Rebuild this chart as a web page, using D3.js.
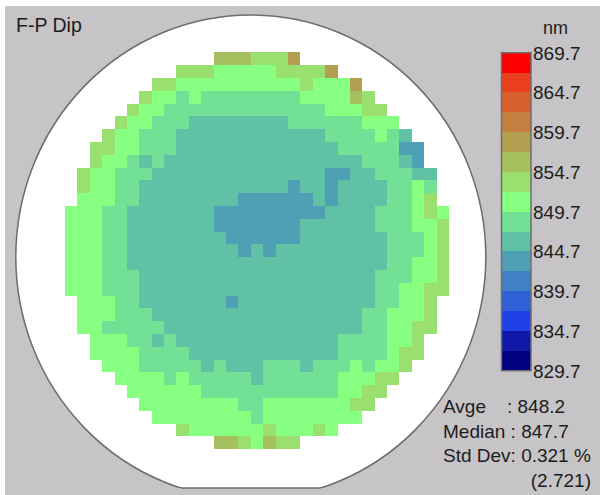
<!DOCTYPE html>
<html>
<head>
<meta charset="utf-8">
<script src="https://cdn.jsdelivr.net/npm/d3@7"></script>
<style>
    body { margin: 0; background: #fff; }
    text { font-family: "Liberation Sans", Arial, sans-serif; fill: #1c1c1c; }
</style>
</head>
<body>
<script>
// legend bands, low to high
var bandBreaks = [832.2, 834.7, 837.2, 839.7, 842.2, 844.7, 847.2, 849.7,
                  852.2, 854.7, 857.2, 859.7, 862.2, 864.7, 867.2];
var bandColors = ["#000080", "#1018a8", "#2040ea", "#3060d5", "#4080c5", "#4f9fb5", "#60c1a5", "#72e196",
                  "#87ff80", "#99e070", "#a6c060", "#b29f50", "#c47f40", "#d8602f", "#ea4020", "#ff0000"];
var legendTicks = [869.7, 864.7, 859.7, 854.7, 849.7, 844.7, 839.7, 834.7, 829.7];

var siteValues = { D: 843.4, T: 846.0, M: 848.4, G: 851.0, L: 853.4, O: 856.0, B: 858.4 };
var siteRows = [
    "............OOOLLLB............",
    ".........LLLGGGGGLLLLB.........",
    ".......LLGGGGGGGGGGLGGGB.......",
    "......LGGMGMMMMMMMMGGGGOL......",
    ".....LGGMMMMMMMMMMMMMGGGLL.....",
    "....LGGMMMTTTTTTTTMMMMMMGGG....",
    "...LGGMMMTTTTTTTTTTTTMMMMGMT...",
    "..LLGGMMMTTTTTTTTTTTTTMMMMMDD..",
    "..LGGMTMTTTTTTTTTTTTTTTTMMMTD..",
    ".LGGMMMTTTTTTTTTTTTTTDDTTMMMTT.",
    ".LGGMMTTTTTTTTTTTTDTTDTTTTMMGM.",
    ".GGGMMTTTTTTTTDDDDDDTDTTTTMMGL.",
    "GGGMMTTTTTTTDDDDDDDDDTTTTMMMGLG",
    "GGGMMTTTTTTTDDDDDDDTTTTTTMMMGGL",
    "GGGMMTTTTTTTTDDDDDDTTTTTTTMMMGL",
    "GGGMMTTTTTTTTTDTDTTTTTTTTTMMMGL",
    "GGGMMTTTTTTTTTTTTTTTTTTTTTMMGGL",
    "GGGMMMTTTTTTTTTTTTTTTTTTTMMMGGL",
    "GGGMMMTTTTTTTTTTTTTTTTTTTMMGGLL",
    ".GGGMMTTTTTTTDTTTTTTTTTTTMMGGL.",
    ".GGGMMMTTTTTTTTTTTTTTTTTMMGGGL.",
    ".GGMMMMMTTTTTTTTTTTTTTTTMMGGLL.",
    "..GGGMMTMTTTTTTTTTTTTTMMMMGGL..",
    "..GGGGMMMMTTTTTTTTTTTTMMMMGLL..",
    "...GGGMMMMMTMTTTMMMTMMMGMGGL...",
    "....GGGGMGMMMMMTMMMMMMGGGLL....",
    ".....GGGGGGMMMMMMMMMMMGGLL.....",
    "......GGGGGGGGMMGGGGGGGLL......",
    ".......GGGGGGGGMGGGGGGGG.......",
    ".........LGGGGGGLGGGLG.........",
    "............OOLGOLL............"
];

var statLines = ["Avge", "Median : 847.7", "Std Dev: 0.321 %"];

var sites = [];
siteRows.forEach(function (row, r) {
    row.split("").forEach(function (ch, c) {
        if (ch != ".") sites.push({ row: r, col: c, value: siteValues[ch] });
    });
});

var svg = d3.select("body")
    .append("svg")
    .attr("width", 600)
    .attr("height", 495)
    .style("display", "block");

// grey panel
svg.append("rect")
    .attr("x", 5)
    .attr("y", 6)
    .attr("width", 595)
    .attr("height", 489)
    .attr("fill", "#c6c4c6");

// wafer with its flat at the bottom
var cx = 250.8, cy = 257, rx = 235, ry = 242, flatY = 488;
var flatHalf = rx * Math.sqrt(1 - Math.pow((flatY - cy) / ry, 2));

svg.append("clipPath")
    .attr("id", "flat")
    .append("rect")
    .attr("x", 0)
    .attr("y", 0)
    .attr("width", 600)
    .attr("height", flatY);

svg.append("ellipse")
    .attr("cx", cx)
    .attr("cy", cy)
    .attr("rx", rx)
    .attr("ry", ry)
    .attr("clip-path", "url(#flat)")
    .attr("fill", "#fff")
    .attr("stroke", "#6c6c6c")
    .attr("stroke-width", 1.5);

svg.append("line")
    .attr("x1", cx - flatHalf)
    .attr("x2", cx + flatHalf)
    .attr("y1", flatY)
    .attr("y2", flatY)
    .attr("stroke", "#6c6c6c")
    .attr("stroke-width", 1.5);

// site map
var xScale = d3.scaleLinear()
    .domain([0, siteRows[0].length])
    .range([65, 449]);

var yScale = d3.scaleLinear()
    .domain([0, siteRows.length])
    .range([52.3, 449.1]);

var colorScale = d3.scaleThreshold()
    .domain(bandBreaks)
    .range(bandColors);

svg.append("g")
    .attr("shape-rendering", "crispEdges")
    .selectAll("rect")
    .data(sites)
    .enter()
    .append("rect")
    .attr("x", d => xScale(d.col))
    .attr("y", d => yScale(d.row))
    .attr("width", d => xScale(d.col + 1) - xScale(d.col))
    .attr("height", d => yScale(d.row + 1) - yScale(d.row))
    .attr("fill", d => colorScale(d.value));

// legend
var legendScale = d3.scaleLinear()
    .domain([829.7, 869.7])
    .range([370.7, 52.7]);

var bandEdges = [829.7].concat(bandBreaks, [869.7]);

svg.append("g")
    .attr("shape-rendering", "crispEdges")
    .selectAll("rect")
    .data(bandColors)
    .enter()
    .append("rect")
    .attr("x", 502)
    .attr("y", (d, i) => legendScale(bandEdges[i + 1]))
    .attr("width", 28.5)
    .attr("height", (d, i) => legendScale(bandEdges[i]) - legendScale(bandEdges[i + 1]))
    .attr("fill", d => d);

svg.append("rect")
    .attr("x", 501.5)
    .attr("y", legendScale(869.7))
    .attr("width", 29.5)
    .attr("height", legendScale(829.7) - legendScale(869.7))
    .attr("fill", "none")
    .attr("stroke", "#6e6e6e")
    .attr("stroke-width", 1.5);

var legendAxis = d3.axisRight(legendScale)
    .tickValues(legendTicks)
    .tickSize(0)
    .tickPadding(2)
    .tickFormat(d3.format(".1f"));

var axisG = svg.append("g")
    .attr("transform", "translate(531,0)")
    .call(legendAxis);

axisG.select(".domain").remove();
axisG.selectAll("text")
    .attr("font-size", 19)
    .attr("font-family", "Liberation Sans")
    .attr("dy", "0.34em");

svg.append("text")
    .attr("x", 543)
    .attr("y", 34)
    .attr("font-size", 18)
    .text("nm");

// title and stats
svg.append("text")
    .attr("x", 16)
    .attr("y", 32)
    .attr("font-size", 19.5)
    .text("F-P Dip");

svg.selectAll(".stat")
    .data(statLines)
    .enter()
    .append("text")
    .attr("class", "stat")
    .attr("x", 443)
    .attr("y", (d, i) => 413 + i * 24.5)
    .attr("font-size", 19)
    .text(d => d);

svg.append("text")
    .attr("x", 507)
    .attr("y", 413)
    .attr("font-size", 19)
    .text(": 848.2");

svg.append("text")
    .attr("x", 591)
    .attr("y", 487)
    .attr("font-size", 19)
    .attr("text-anchor", "end")
    .text("(2.721)");
</script>
</body>
</html>
